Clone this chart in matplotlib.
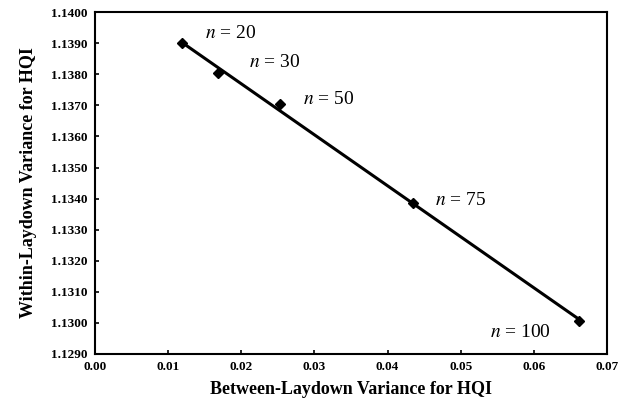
import numpy as np
import matplotlib
matplotlib.use('Agg')
import matplotlib.pyplot as plt

between_var = [0.0119, 0.0168, 0.0253, 0.0435, 0.0662]
within_var = [1.1390, 1.13805, 1.13705, 1.13387, 1.13005]
labels = ['20', '30', '50', '75', '100']
# label offsets in pixels (dx, dy)
offsets = [(23, 10), (31, 10), (23, 4), (22, 2), (-89, -11)]

plt.rcParams['font.family'] = 'Liberation Serif'
plt.rcParams['mathtext.fontset'] = 'stix'

fig = plt.figure(figsize=(6.24, 4.05), dpi=100)
ax = fig.add_axes([0.152, 0.126, 0.821, 0.844])

# linear trend line
slope, icpt = np.polyfit(between_var, within_var, 1)
xs = np.array([min(between_var), max(between_var)])
ax.plot(xs, slope * xs + icpt, color='black', lw=2.2)
ax.plot(between_var, within_var, 'D', color='black', ms=5)

for x, y, lab, off in zip(between_var, within_var, labels, offsets):
    ax.annotate('$n$ = ' + lab, (x, y), xytext=off, textcoords='offset pixels',
                fontsize=14, va='center', ha='left')

ax.set_xlim(0, 0.07)
ax.set_ylim(1.129, 1.140)
ax.set_xticks(np.arange(0, 0.0701, 0.01))
ax.set_yticks(np.arange(1.129, 1.14001, 0.001))
ax.xaxis.set_major_formatter(matplotlib.ticker.FormatStrFormatter('%.2f'))
ax.yaxis.set_major_formatter(matplotlib.ticker.FormatStrFormatter('%.4f'))
ax.tick_params(direction='in', length=3, width=1.2, labelsize=9.5, pad=5)
for t in ax.get_xticklabels() + ax.get_yticklabels():
    t.set_fontweight('bold')
for s in ax.spines.values():
    s.set_linewidth(1.5)

ax.set_xlabel('Between-Laydown Variance for HQI', fontsize=13, fontweight='bold', labelpad=6)
ax.set_ylabel('Within-Laydown Variance for HQI', fontsize=13, fontweight='bold', labelpad=10)

fig.savefig('out.png', dpi=100)
